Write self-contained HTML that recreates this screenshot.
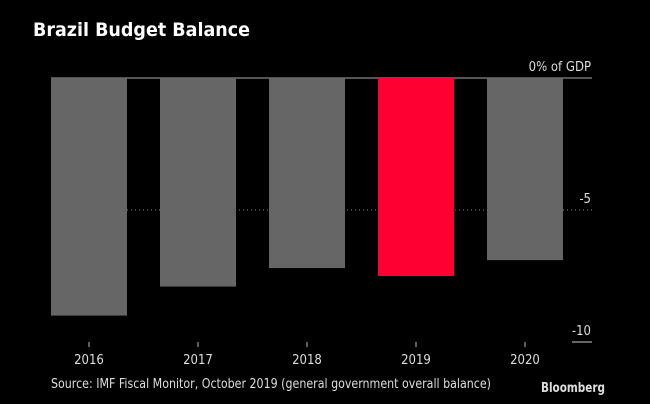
<!DOCTYPE html>
<html><head><meta charset="utf-8"><style>
body{margin:0;background:#000;width:650px;height:400px;overflow:hidden;font-family:"DejaVu Sans Condensed","Liberation Sans Narrow","Liberation Sans",sans-serif;}
text{font-family:"DejaVu Sans Condensed","Liberation Sans Narrow","Liberation Sans",sans-serif;}
</style></head><body>
<svg id="chart" width="650" height="400" xmlns="http://www.w3.org/2000/svg">
<rect width="650" height="400" fill="#000"/>
<text x="33" y="36" fill="#fff" font-size="19" font-weight="bold" textLength="217" lengthAdjust="spacingAndGlyphs" font-family="Liberation Sans, sans-serif">Brazil Budget Balance</text>
<g id="grid"></g><g id="bars"></g><g id="xaxis"></g>
<text x="51" y="388" fill="#ddd" font-size="13" textLength="440" lengthAdjust="spacingAndGlyphs">Source: IMF Fiscal Monitor, October 2019 (general government overall balance)</text>
<text x="541" y="392" fill="#ddd" font-size="13" font-weight="bold" textLength="64" lengthAdjust="spacingAndGlyphs" font-family="Liberation Sans, sans-serif">Bloomberg</text>
</svg>
<script>
const categories=["2016","2017","2018","2019","2020"];
const values=[-9.0,-7.9,-7.2,-7.5,-6.9];
const highlight=["2019"];
const yTicks=[0,-5,-10];
const yTickLabels=["0% of GDP","-5","-10"];
const NS="http://www.w3.org/2000/svg";
const y0=78,pxPerUnit=26.4;
function y(v){return y0-v*pxPerUnit;}
function xc(i){return 89+i*109;}
function mk(t,a,p){const e=document.createElementNS(NS,t);for(const k in a)e.setAttribute(k,a[k]);p.appendChild(e);return e;}
const grid=document.getElementById('grid'),bars=document.getElementById('bars'),xa=document.getElementById('xaxis');
yTicks.forEach((t,i)=>{
  const yy=y(t);
  let l;
  if(t===0){l=mk('line',{x1:51,x2:592,y1:yy,y2:yy,stroke:'#aaa','stroke-width':1},grid);}
  else if(i===yTicks.length-1){l=mk('line',{x1:572,x2:592,y1:yy,y2:yy,stroke:'#ccc','stroke-width':1},grid);}
  else{l=mk('line',{x1:51,x2:592,y1:yy,y2:yy,stroke:'#888','stroke-width':1,'stroke-dasharray':'1,3'},grid);}
  
  
  const tx=mk('text',{x:591,y:yy-7,fill:'#ddd','font-size':13,'text-anchor':'end'},grid);
  tx.textContent=yTickLabels[i];
  
  
});
categories.forEach((c,i)=>{
  const v=values[i];
  const r=mk('rect',{x:xc(i)-38,y:y(0),width:76,height:y(v)-y(0),fill:highlight.includes(c)?'#ff0033':'#666666'},bars);
  
  
  const tk=mk('line',{x1:xc(i),x2:xc(i),y1:342,y2:347,stroke:'#bbb','stroke-width':1},xa);
  
  
  const t=mk('text',{x:xc(i),y:364,fill:'#ddd','font-size':13,'text-anchor':'middle'},xa);
  t.textContent=c;
  
  
});
</script>
</body></html>
